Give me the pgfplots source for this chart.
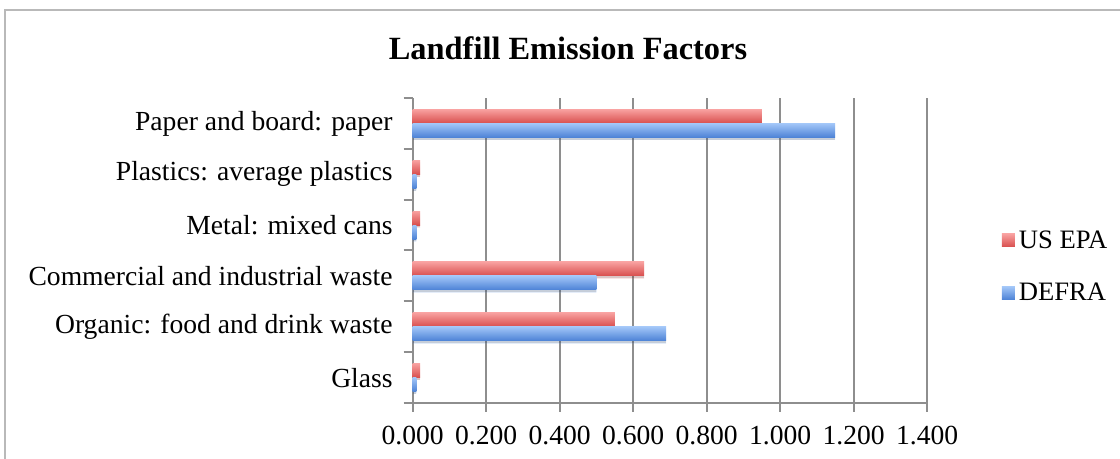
\documentclass[border=0pt]{standalone}
\usepackage{pgfplots}
\pgfplotsset{compat=1.18}
\usetikzlibrary{shadows}
\usepackage{fontspec}
\setmainfont{Liberation Serif}
\definecolor{redtop}{HTML}{F8A09F}
\definecolor{redbot}{HTML}{D84E4D}
\definecolor{bluetop}{HTML}{A2C6F8}
\definecolor{bluebot}{HTML}{4C82D6}
\definecolor{gridgray}{HTML}{8E8E8E}
\pgfplotsset{
  epa/.style={bar width=0.275, bar shift=0.1375, draw=none, top color=redtop, bottom color=redbot},
  defra/.style={bar width=0.275, bar shift=-0.1375, draw=none, top color=bluetop, bottom color=bluebot},
  shad/.style={drop shadow={shadow xshift=0pt, shadow yshift=-1.2pt, fill=black, opacity=0.15}},
}
\begin{document}
\begin{tikzpicture}
\path[use as bounding box] (0,0) rectangle (560pt,229.5pt);
\draw[gray!55, line width=0.7pt] (2.5pt,0) -- (2.5pt,224.5pt) -- (560pt,224.5pt);
\node[font=\fontsize{16.2}{18}\selectfont\bfseries] at (284pt,205.5pt) {Landfill Emission Factors};
\begin{axis}[
  at={(206.35pt,28pt)}, anchor=south west,
  scale only axis, width=257.2pt, height=152.5pt,
  xbar,
  xmin=0, xmax=1.4, ymin=-0.5, ymax=5.5,
  axis x line=bottom, axis y line=left,
  axis line style={-, draw=gridgray, line width=1pt},
  xtick={0,0.2,0.4,0.6,0.8,1.0,1.2,1.4},
  minor xtick={0,0.2,0.4,0.6,0.8,1.0,1.2,1.4},
  ytick={0,1,2,3,4,5},
  minor ytick={-0.5,0.5,1.5,2.5,3.5,4.5,5.5},
  yticklabels={Glass, Organic: food and drink waste, Commercial and industrial waste, Metal: mixed cans, Plastics: average plastics, Paper and board: paper},
  major tick length=0pt, minor tick length=4.5pt, tick align=outside,
  minor tick style={draw=gridgray, line width=1pt},
  xmajorgrids=true, major grid style={draw=gridgray, line width=1pt},
  scaled x ticks=false,
  /pgf/number format/fixed, /pgf/number format/fixed zerofill,
  /pgf/number format/precision=3, /pgf/number format/assume math mode=true,
  xticklabel style={yshift=-8pt},
  yticklabel style={xshift=-6.5pt},
  tick label style={font=\fontsize{13.8}{15}\selectfont},
  legend style={at={(rel axis cs:1.133,0.445)}, anchor=west, draw=none, fill=none,
    font=\fontsize{13.3}{15}\selectfont, row sep=12pt},
  legend cell align=left,
  legend image code/.code={\path[#1] (0pt,-3pt) rectangle (6.5pt,3.5pt);},
  clip=false,
]
% US EPA
\addplot[epa, shad, forget plot] coordinates {(0.02,0)};
\addplot[epa, shad, forget plot] coordinates {(0.55,1)};
\addplot[epa, shad, forget plot] coordinates {(0.63,2)};
\addplot[epa, shad, forget plot] coordinates {(0.02,3)};
\addplot[epa, shad, forget plot] coordinates {(0.02,4)};
\addplot[epa, shad, forget plot] coordinates {(0.95,5)};
% DEFRA
\addplot[defra, shad, forget plot] coordinates {(0.01,0)};
\addplot[defra, shad, forget plot] coordinates {(0.69,1)};
\addplot[defra, shad, forget plot] coordinates {(0.50,2)};
\addplot[defra, shad, forget plot] coordinates {(0.01,3)};
\addplot[defra, shad, forget plot] coordinates {(0.01,4)};
\addplot[defra, shad, forget plot] coordinates {(1.15,5)};
\addlegendimage{epa}
\addlegendentry{US EPA}
\addlegendimage{defra}
\addlegendentry{DEFRA}
\end{axis}
\end{tikzpicture}
\end{document}
